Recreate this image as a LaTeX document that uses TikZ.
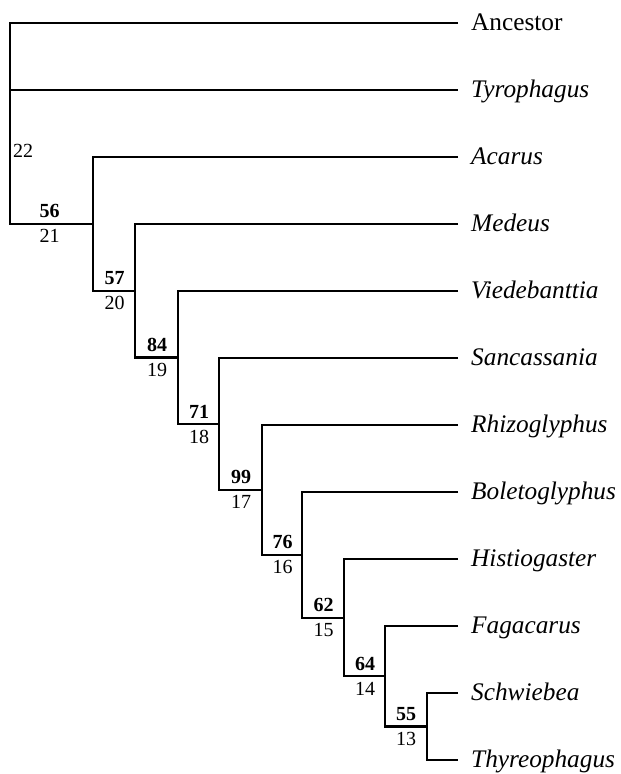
\documentclass[tikz,border=0pt]{standalone}
\usepackage{fontspec}
\setmainfont{Liberation Serif}
\begin{document}
\begin{tikzpicture}[x=1pt,y=-1pt,
  branch/.style={line width=2.1pt, line join=miter},
  leafname/.style={anchor=base west, inner sep=0pt, font=\fontsize{25.3}{30}\selectfont},
  boot/.style={anchor=base, inner sep=0pt, font=\fontsize{20}{22}\selectfont\bfseries},
  nodenum/.style={anchor=base, inner sep=0pt, font=\fontsize{20}{22}\selectfont}]
\useasboundingbox (0,0) rectangle (621,774);
% leaf line ends
\coordinate (Anc) at (458,23);
\coordinate (Tyr) at (458,90);
\coordinate (Aca) at (458,157);
\coordinate (Med) at (458,224);
\coordinate (Vie) at (458,291);
\coordinate (San) at (458,358);
\coordinate (Rhi) at (458,425);
\coordinate (Bol) at (458,492);
\coordinate (His) at (458,559);
\coordinate (Fag) at (458,626);
\coordinate (Sch) at (458,693);
\coordinate (Thy) at (458,760);
% internal nodes
\coordinate (n13) at (427,726.5);
\coordinate (n14) at (385,676.3);
\coordinate (n15) at (344,617.6);
\coordinate (n16) at (302,554.8);
\coordinate (n17) at (262,489.9);
\coordinate (n18) at (219,424);
\coordinate (n19) at (178,357.5);
\coordinate (n20) at (135,290.7);
\coordinate (n21) at (93,223.9);
\coordinate (root) at (10,223.9);
\coordinate (rootT) at (10,90);
% branches
\draw[branch] (Anc) -| (root) -- (n21);
\draw[branch] (rootT) -- (Tyr);
\draw[branch] (Aca) -| (n21) |- (n20);
\draw[branch] (Med) -| (n20) |- (n19);
\draw[branch] (Vie) -| (n19) |- (n18);
\draw[branch] (San) -| (n18) |- (n17);
\draw[branch] (Rhi) -| (n17) |- (n16);
\draw[branch] (Bol) -| (n16) |- (n15);
\draw[branch] (His) -| (n15) |- (n14);
\draw[branch] (Fag) -| (n14) |- (n13);
\draw[branch] (Sch) -| (n13) |- (Thy);
% leaf names
\node[leafname] (tAnc) at (471,30) {Ancestor};
\node[leafname] (tTyr) at (471,97) {\itshape Tyrophagus};
\node[leafname] (tAca) at (471,164) {\itshape Acarus};
\node[leafname] (tMed) at (471,231) {\itshape Medeus};
\node[leafname] (tVie) at (471,298) {\itshape Viedebanttia};
\node[leafname] (tSan) at (471,365) {\itshape Sancassania};
\node[leafname] (tRhi) at (471,432) {\itshape Rhizoglyphus};
\node[leafname] (tBol) at (471,499) {\itshape Boletoglyphus};
\node[leafname] (tHis) at (471,566) {\itshape Histiogaster};
\node[leafname] (tFag) at (471,633) {\itshape Fagacarus};
\node[leafname] (tSch) at (471,700) {\itshape Schwiebea};
\node[leafname] (tThy) at (471,767) {\itshape Thyreophagus};
% node labels
\node[nodenum] (l22) at (23,157) {22};
\node[boot] (b21) at (49.5,217.9) {56};
\node[nodenum] (l21) at (49.5,242.9) {21};
\node[boot] (b20) at (114.5,284.7) {57};
\node[nodenum] (l20) at (114.5,309.7) {20};
\node[boot] (b19) at (157,351.5) {84};
\node[nodenum] (l19) at (157,376.5) {19};
\node[boot] (b18) at (199,418) {71};
\node[nodenum] (l18) at (199,443) {18};
\node[boot] (b17) at (241,483.9) {99};
\node[nodenum] (l17) at (241,508.9) {17};
\node[boot] (b16) at (282.5,548.8) {76};
\node[nodenum] (l16) at (282.5,573.8) {16};
\node[boot] (b15) at (323.5,611.6) {62};
\node[nodenum] (l15) at (323.5,636.6) {15};
\node[boot] (b14) at (365,670.3) {64};
\node[nodenum] (l14) at (365,695.3) {14};
\node[boot] (b13) at (406,720.5) {55};
\node[nodenum] (l13) at (406,745.5) {13};
\end{tikzpicture}
\end{document}
